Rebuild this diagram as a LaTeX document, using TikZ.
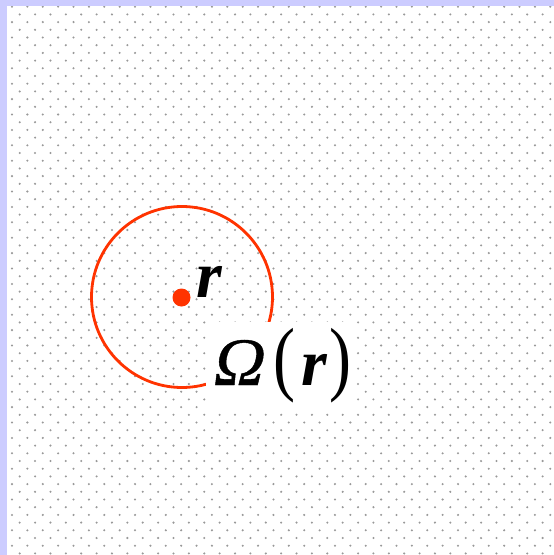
\documentclass[tikz,border=0pt]{standalone}
\usepackage{fontspec}
\usepackage{graphicx}
\setmainfont{Liberation Serif}
\newfontfamily\omegafont[FakeSlant=0.18,FakeBold=0.6]{Liberation Serif}
\definecolor{framelav}{HTML}{CCCCFF}
\definecolor{markred}{HTML}{FF3300}
\definecolor{dotgray}{HTML}{999999}
\tikzset{
  bgdot/.style={fill=dotgray},
  circleline/.style={draw=markred, line width=2.8pt},
  centerdot/.style={circle, fill=markred, minimum size=18pt, inner sep=0pt},
  bigtext/.style={font=\fontsize{66}{66}\selectfont, inner sep=0pt, anchor=base west},
  whitepatch/.style={fill=white, inner sep=0pt, anchor=north west, minimum width=147pt, minimum height=88pt}
}
\newcommand{\tallparen}[1]{\scalebox{1}[1.25]{#1}}
\begin{document}
\begin{tikzpicture}[x=1pt,y=-1pt]
\useasboundingbox (0,0) rectangle (554,555);
\fill[white] (0,0) rectangle (554,555);
% staggered dot grid
\foreach \i in {0,...,35}{
  \foreach \j in {0,...,35}{
    \fill[bgdot] ({12+15.38*\i},{6.7+15.4*\j}) circle[radius=1.15];
    \fill[bgdot] ({19.7+15.38*\i},{14.4+15.4*\j}) circle[radius=1.15];
  }
}
% frame strips
\fill[framelav] (0,0) rectangle (7,555);
\fill[framelav] (0,0) rectangle (554,6);
% circle and centre point
\coordinate (c) at (182,297);
\draw[circleline] (c) circle[radius=90.5];
\node[centerdot] (pt) at (181.5,297.5) {};
\node[bigtext] (rlabel) at (196,297) {\bfseries\itshape r};
% Omega(r) label with white background
\node[whitepatch] (omegabox) at (206,322) {};
\node[bigtext] (omegalabel) at (211,385) {{\omegafont\fontsize{68}{68}\selectfont Ω}\kern 12pt\tallparen{(}\kern 6pt{\bfseries\itshape r}\kern 2pt\tallparen{)}};
\end{tikzpicture}
\end{document}
